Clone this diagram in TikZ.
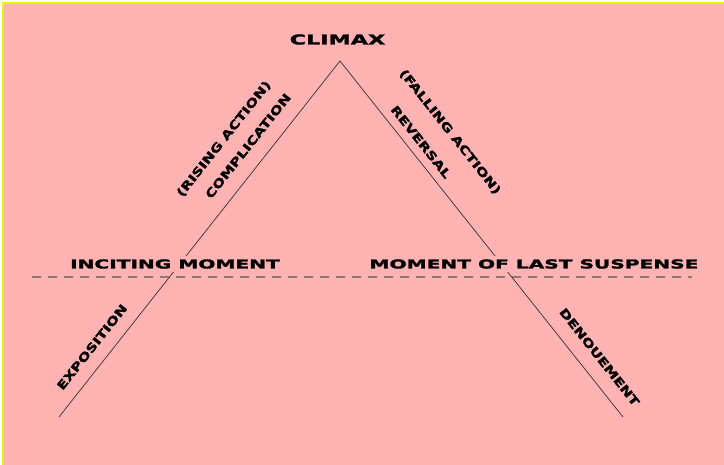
\documentclass[tikz,border=0pt]{standalone}
\usepackage{fontspec}
\usepackage{xcolor}
\usepackage{tikz}
\newfontfamily\headfont[FakeStretch=1.65, FakeBold=2.2]{DejaVu Sans Bold}
\newfontfamily\slopefont[FakeStretch=1.33, FakeBold=2]{DejaVu Sans Bold}
\definecolor{bgpink}{HTML}{FFB3B3}
\definecolor{edgeyellow}{HTML}{F0F000}
\definecolor{plotgray}{HTML}{4A3A3A}
\definecolor{dashgray}{HTML}{8F7878}
\tikzstyle{headlabel} = [font=\headfont\fontsize{12.2}{14}\selectfont, text=black, fill=bgpink, inner sep=3pt]
\tikzstyle{slopelabel} = [font=\slopefont\fontsize{11.5}{13}\selectfont, text=black, inner sep=0pt]
\tikzstyle{plotline} = [draw=plotgray, line width=0.8pt]
\tikzstyle{midline} = [draw=dashgray, line width=1.2pt, dash pattern=on 9pt off 7pt]

\begin{document}
\begin{tikzpicture}[x=1pt, y=1pt]
  \useasboundingbox (0,0) rectangle (724,465);
  % Page
  \fill[white] (0,0) rectangle (724,465);
  \fill[bgpink] (3,0) rectangle (724,462);
  \draw[edgeyellow, line width=1.5pt] (3,0) -- (3,462) -- (724,462);

  % Plot points
  \coordinate (apex) at (340,404);
  \coordinate (lfoot) at (59,48);
  \coordinate (rfoot) at (623,48);
  \coordinate (dashl) at (32,188);
  \coordinate (dashr) at (692,188);

  \draw[midline] (dashl) -- (dashr);
  \draw[plotline] (lfoot) -- (apex) -- (rfoot);

  % Top
  \node (climax) [headlabel, fill=none, font=\headfont\fontsize{13.5}{15}\selectfont] at (337.5,425.5) {CLIMAX};

  % Rising side
  \node (rising) [slopelabel, rotate=51.7] at (224,326) {(RISING ACTION)};
  \node (complication) [slopelabel, rotate=51.7] at (248,319) {COMPLICATION};
  \node (exposition) [slopelabel, rotate=51.7] at (92,118) {EXPOSITION};

  % Falling side
  \node (falling) [slopelabel, rotate=-51.7] at (450,333) {(FALLING ACTION)};
  \node (reversal) [slopelabel, rotate=-51.7] at (421,323) {REVERSAL};
  \node (denouement) [slopelabel, rotate=-51.7] at (599.5,108) {DENOUEMENT};

  % Turning points
  \node (inciting) [headlabel] at (175,201) {INCITING MOMENT};
  \node (suspense) [headlabel] at (534,201) {MOMENT OF LAST SUSPENSE};
\end{tikzpicture}
\end{document}
